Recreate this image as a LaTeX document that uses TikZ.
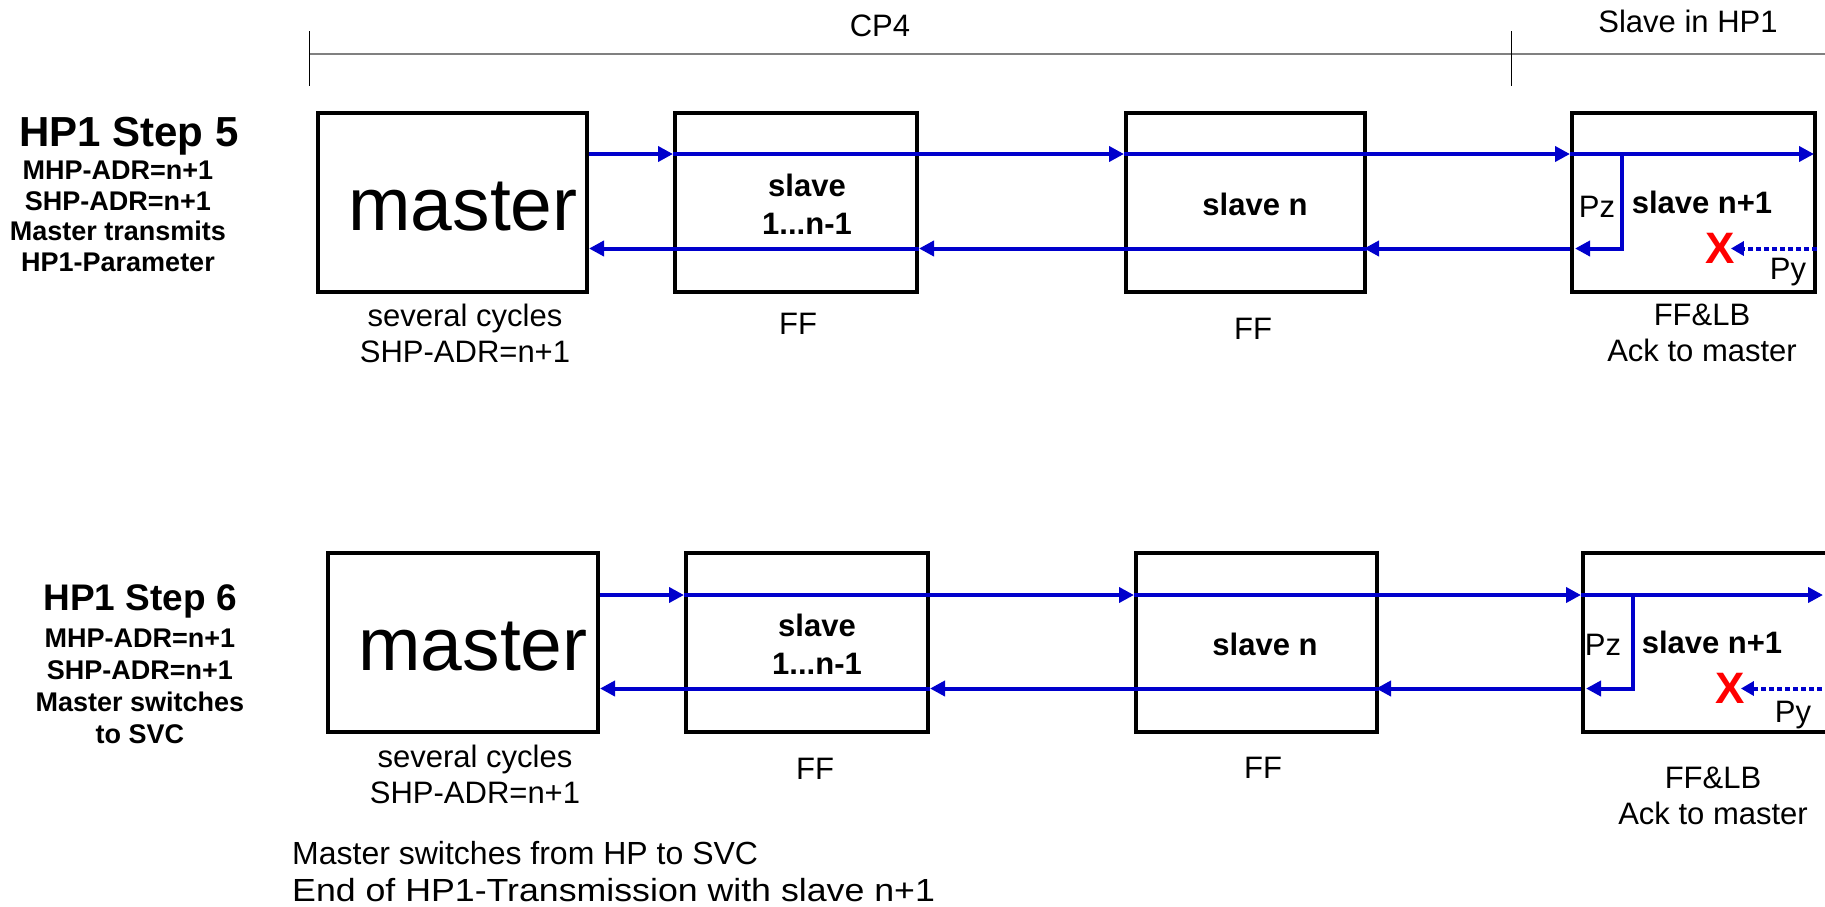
\documentclass[tikz,border=0pt]{standalone}
\usepackage{fontspec}
\usepackage{graphicx}
\setmainfont{Liberation Sans}
\usetikzlibrary{arrows.meta}
\definecolor{linkblue}{RGB}{0,0,204}
\definecolor{rulegray}{RGB}{128,128,128}
\tikzset{
  box/.style={draw=black, line width=4pt, minimum height=179pt, inner sep=0pt},
  flow/.style={draw=linkblue, line width=4pt, -{Triangle[length=15pt,width=15pt]}},
  dotflow/.style={draw=linkblue, line width=4pt, dash pattern=on 5pt off 3pt,
    -{Triangle[length=13pt,width=14pt]}},
  lbl/.style={font=\fontsize{31}{36}\selectfont, inner sep=0pt, align=center},
  blbl/.style={font=\bfseries\fontsize{31}{38}\selectfont, inner sep=0pt, align=center},
  big/.style={font=\fontsize{75}{80}\selectfont, inner sep=0pt},
  steplbl/.style={font=\bfseries\fontsize{27}{30.6}\selectfont, inner sep=0pt, align=center},
  cross/.style={font=\bfseries\fontsize{44}{44}\selectfont, text=red, inner sep=0pt},
  ruler/.style={draw=rulegray, line width=2pt},
  tick/.style={draw=black, line width=1pt},
}
\begin{document}
\begin{tikzpicture}[x=1pt, y=-1pt]
\useasboundingbox (0,0) rectangle (1825,906);

% ---------- phase ruler ----------
\coordinate (rl) at (309,54);
\coordinate (rr) at (1830,54);
\coordinate (t1a) at (309,31);  \coordinate (t1b) at (309,86);
\coordinate (t2a) at (1511,31); \coordinate (t2b) at (1511,86);
\draw[ruler] (rl) -- (rr);
\draw[tick] (t1a) -- (t1b);
\draw[tick] (t2a) -- (t2b);
\node[lbl, anchor=base] (cp4) at (880,36) {CP4};
\node[lbl, anchor=base] (hp1) at (1688,32) {Slave in HP1};

% ---------- step 5 ----------
\node[steplbl, anchor=north, font=\bfseries\fontsize{42}{44}\selectfont] (step5) at (129,117) {HP1 Step 5};
\node[steplbl, anchor=north] (step5b) at (118,161)
  {MHP-ADR=n+1\\SHP-ADR=n+1\\Master transmits\\HP1-Parameter};

\node[box, minimum width=269pt] (m1)  at (452.5,202.5) {};
\node[box, minimum width=242pt] (s1a) at (796,202.5) {};
\node[box, minimum width=239pt] (sna) at (1245.5,202.5) {};
\node[box, minimum width=243pt] (spa) at (1693.5,202.5) {};

\node[big, anchor=base] (m1t) at (463,230) {master};
\node[blbl, anchor=north] (s1at) at (807,174) {slave\\1...n-1};
\node[blbl, anchor=base] (snat) at (1255,215) {slave n};
\node[blbl, anchor=base] (spat) at (1702,213) {slave n+1};
\node[lbl, anchor=base] (pza) at (1597,217) {Pz};
\node[lbl, anchor=base] (pya) at (1788,279) {Py};
\node[cross, anchor=base] (xa) at (1720,263) {X};

\node[lbl, anchor=north] (m1u)  at (465,303.4) {several cycles\\SHP-ADR=n+1};
\node[lbl, anchor=base]  (s1au) at (798,334) {FF};
\node[lbl, anchor=base]  (snau) at (1253,339) {FF};
\node[lbl, anchor=north] (spau) at (1702,303.4) {FF\&LB\\Ack to master};

\coordinate (f1) at (0,154);
\coordinate (r1) at (0,248.5);
\coordinate (b1) at (1622,154);

\draw[flow] (m1.east |- f1) -- (s1a.west |- f1);
\draw[flow] (s1a.west |- f1) -- (sna.west |- f1);
\draw[flow] (sna.west |- f1) -- (spa.west |- f1);
\draw[flow] (spa.west |- f1) -- ([xshift=-3pt]spa.east |- f1);
\draw[flow] (b1) -- (b1 |- r1) -- ([xshift=5pt]spa.west |- r1);
\draw[flow] (spa.west |- r1) -- ([xshift=-3pt]sna.east |- r1);
\draw[flow] (sna.east |- r1) -- (s1a.east |- r1);
\draw[flow] (s1a.east |- r1) -- (m1.east |- r1);
\draw[dotflow] (spa.east |- r1) -- ([xshift=-4pt]xa.east |- r1);

% ---------- step 6 ----------
\node[steplbl, anchor=north, font=\bfseries\fontsize{27}{32}\selectfont] (step6) at (140,584)
  {{\fontsize{37}{40}\selectfont HP1 Step 6}\\[5pt]MHP-ADR=n+1\\SHP-ADR=n+1\\Master switches\\to SVC};

\node[box, minimum width=270pt] (m2)  at (463,642.5) {};
\node[box, minimum width=242pt] (s1b) at (807,642.5) {};
\node[box, minimum width=241pt] (snb) at (1256.5,642.5) {};
\node[box, minimum width=247pt] (spb) at (1706.5,642.5) {};

\node[big, anchor=base] (m2t) at (473,670) {master};
\node[blbl, anchor=north] (s1bt) at (817,614) {slave\\1...n-1};
\node[blbl, anchor=base] (snbt) at (1265,655) {slave n};
\node[blbl, anchor=base] (spbt) at (1712,653) {slave n+1};
\node[lbl, anchor=base] (pzb) at (1603,655) {Pz};
\node[lbl, anchor=base] (pyb) at (1793,722) {Py};
\node[cross, anchor=base] (xb) at (1730,703) {X};

\node[lbl, anchor=north] (m2u)  at (475,745) {several cycles\\SHP-ADR=n+1};
\node[lbl, anchor=base]  (s1bu) at (815,779) {FF};
\node[lbl, anchor=base]  (snbu) at (1263,778) {FF};
\node[lbl, anchor=north] (spbu) at (1713,767) {FF\&LB\\Ack to master};

\node[lbl, align=left, anchor=north west, font=\fontsize{32}{37}\selectfont] (note) at (292,841.5)
  {Master switches from HP to SVC\\\scalebox{1.116}[1]{End of HP1-Transmission with slave n+1}};

\coordinate (f2) at (0,595);
\coordinate (r2) at (0,688.5);
\coordinate (b2) at (1633,595);
\coordinate (f2end) at (1823,595);
\coordinate (py2src) at (1830,688.5);

\draw[flow] (m2.east |- f2) -- (s1b.west |- f2);
\draw[flow] (s1b.west |- f2) -- (snb.west |- f2);
\draw[flow] (snb.west |- f2) -- (spb.west |- f2);
\draw[flow] (spb.west |- f2) -- (f2end);
\draw[flow] (b2) -- (b2 |- r2) -- ([xshift=5pt]spb.west |- r2);
\draw[flow] (spb.west |- r2) -- ([xshift=-3pt]snb.east |- r2);
\draw[flow] (snb.east |- r2) -- (s1b.east |- r2);
\draw[flow] (s1b.east |- r2) -- (m2.east |- r2);
\draw[dotflow] (py2src) -- ([xshift=-4pt]xb.east |- r2);
\end{tikzpicture}
\end{document}
